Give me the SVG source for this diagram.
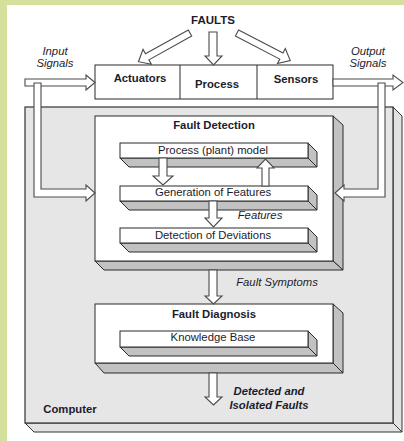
<svg xmlns="http://www.w3.org/2000/svg" width="404" height="441" viewBox="0 0 404 441">
<style>
text{font-family:"Liberation Sans",Arial,sans-serif;font-size:11.3px;fill:#1c1c2c;text-anchor:middle}
.b{font-weight:bold}
.i{font-style:italic}
.front{fill:#fff;stroke:#2a2a2a;stroke-width:1}
.depth{fill:#c2c2c2;stroke:#2a2a2a;stroke-width:1;stroke-linejoin:round}
.arr{fill:#fff;stroke:#4a4a4a;stroke-width:1.1;stroke-linejoin:miter}
</style>
<rect x="0" y="0" width="404" height="441" fill="#d4e09b"/>
<rect x="7" y="5" width="397" height="436" fill="#fff"/>

<g id="computer">
  <polygon points="393,107 402,116 402,432 393,423" fill="#e2e2e2" stroke="#333" stroke-width="1"/>
  <polygon points="25,423 393,423 402,432 34,432" fill="#e2e2e2" stroke="#333" stroke-width="1"/>
  <rect x="25" y="107" width="368" height="316" fill="#e6e6e6" stroke="#333" stroke-width="1.2"/>
  <text class="b" x="70" y="413">Computer</text>
</g>

<g id="plant">
  <rect class="front" x="95" y="65" width="238" height="34"/>
  <line x1="180" y1="65" x2="180" y2="99" stroke="#2a2a2a"/>
  <line x1="257" y1="65" x2="257" y2="99" stroke="#2a2a2a"/>
  <text class="b" x="140" y="82">Actuators</text>
  <text class="b" x="217" y="88">Process</text>
  <text class="b" x="296" y="83">Sensors</text>
</g>

<g id="faults">
  <text class="b" x="213" y="24" style="font-size:11.5px">FAULTS</text>
</g>

<g id="fault-detection">
  <polygon class="depth" points="333,116 343,125 343,270 333,261"/>
  <polygon class="depth" points="95,261 333,261 343,270 104,270"/>
  <rect class="front" x="95" y="116" width="238" height="145"/>
  <text class="b" x="214" y="129">Fault Detection</text>
</g>

<g id="process-model">
  <polygon class="depth" points="308,143 317,152 317,167 308,158"/>
  <polygon class="depth" points="120,158 308,158 317,167 129,167"/>
  <rect class="front" x="120" y="143" width="188" height="15"/>
  <text x="213" y="154">Process (plant) model</text>
</g>

<g id="generation">
  <polygon class="depth" points="308,186 317,195 317,210 308,201"/>
  <polygon class="depth" points="120,201 308,201 317,210 129,210"/>
  <rect class="front" x="120" y="186" width="188" height="15"/>
  <text x="213" y="196">Generation of Features</text>
</g>

<g id="detection">
  <polygon class="depth" points="308,228 317,237 317,252 308,243"/>
  <polygon class="depth" points="120,243 308,243 317,252 129,252"/>
  <rect class="front" x="120" y="228" width="188" height="15"/>
  <text x="213" y="239">Detection of Deviations</text>
</g>

<g id="fault-diagnosis">
  <polygon class="depth" points="333,304 343,313 343,373 333,363"/>
  <polygon class="depth" points="95,363 333,363 343,373 104,373"/>
  <rect class="front" x="95" y="304" width="238" height="59"/>
  <text class="b" x="214" y="318">Fault Diagnosis</text>
</g>

<g id="knowledge-base">
  <polygon class="depth" points="308,331 317,340 317,356 308,347"/>
  <polygon class="depth" points="120,347 308,347 317,356 129,356"/>
  <rect class="front" x="120" y="331" width="188" height="16"/>
  <text x="213" y="341">Knowledge Base</text>
</g>

<g id="connectors">
  <!-- fault arrows -->
  <path class="arr" transform="translate(190,33) rotate(150.9)" d="M0,-3.5 L49,-3.5 L49,-8.5 L59,0 L49,8.5 L49,3.5 L0,3.5 Z"/>
  <path class="arr" d="M209,32 L217,32 L217,56 L222,56 L213.5,65 L205,56 L209,56 Z"/>
  <path class="arr" transform="translate(237,33) rotate(27.4)" d="M0,-3.5 L50,-3.5 L50,-8.5 L60,0 L50,8.5 L50,3.5 L0,3.5 Z"/>
  <!-- input / output -->
  <path class="arr" d="M25,79 L86,79 L86,75 L95,82.5 L86,90 L86,86 L25,86 Z"/>
  <path class="arr" d="M333,79 L393,79 L393,75 L403,82.5 L393,90 L393,86 L333,86 Z"/>
  <path class="arr" d="M34,83 L41,83 L41,189 L86,189 L86,185 L95,193 L86,201 L86,197 L34,197 Z"/>
  <path class="arr" d="M378,83 L385,83 L385,197 L344,197 L344,201 L335,193 L344,185 L344,189 L378,189 Z"/>
  <!-- inner arrows -->
  <path class="arr" d="M159,158 L167,158 L167,176 L173,176 L163,185 L153,176 L159,176 Z"/>
  <path class="arr" d="M262,186 L269,186 L269,168 L274,168 L265.5,159 L257,168 L262,168 Z"/>
  <path class="arr" d="M209,201 L217,201 L217,218 L222,218 L213.5,227 L205,218 L209,218 Z"/>
  <path class="arr" d="M209,270 L217,270 L217,296 L222,296 L213.5,304 L205,296 L209,296 Z"/>
  <path class="arr" d="M209,373 L217,373 L217,397 L222,397 L213.5,405 L205,397 L209,397 Z"/>
  <!-- labels -->
  <text class="i" x="55" y="55">Input</text>
  <text class="i" x="55" y="67">Signals</text>
  <text class="i" x="368" y="55">Output</text>
  <text class="i" x="368" y="67">Signals</text>
  <text class="i" x="260" y="219">Features</text>
  <text class="i" x="277" y="286">Fault Symptoms</text>
  <text class="i b" x="269" y="395">Detected and</text>
  <text class="i b" x="269" y="409">Isolated Faults</text>
</g>
</svg>
